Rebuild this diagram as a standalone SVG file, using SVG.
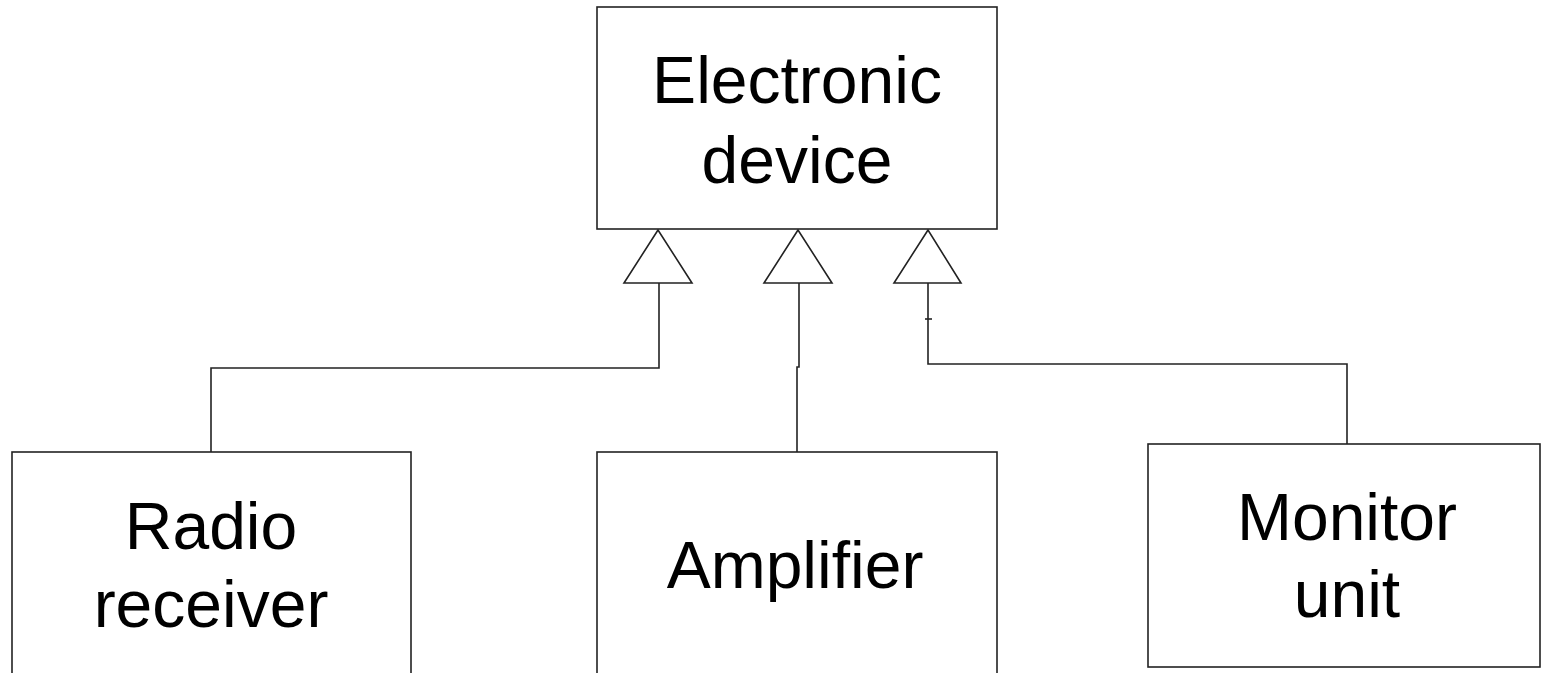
<svg xmlns="http://www.w3.org/2000/svg" width="1541" height="673" viewBox="0 0 1541 673">
<style>
.box{fill:#fff;stroke:#222;stroke-width:1.6}
.lbl{font-family:"Liberation Sans",Arial,sans-serif;font-size:66px;fill:#000;text-anchor:middle}
.conn{fill:none;stroke:#222;stroke-width:1.6}
.tri{fill:#fff;stroke:#222;stroke-width:1.6}
</style>
<rect width="1541" height="673" fill="#fff"/>
<g id="connectors">
<path class="conn" d="M659,283 V368 H211 V452"/>
<path class="conn" d="M799,283 V367 H797 V452"/>
<path class="conn" d="M928,283 V364 H1347 V444"/>
<path class="conn" d="M925,319 H932"/>
<polygon class="tri" points="658,230 624,283 692,283"/>
<polygon class="tri" points="798,230 764,283 832,283"/>
<polygon class="tri" points="928,230 894,283 961,283"/>
</g>
<g id="electronic-device">
<rect class="box" x="597" y="7" width="400" height="222"/>
<text class="lbl" x="797" y="103">Electronic</text>
<text class="lbl" x="797" y="183">device</text>
</g>
<g id="radio-receiver">
<rect class="box" x="12" y="452" width="399" height="240"/>
<text class="lbl" x="211" y="549">Radio</text>
<text class="lbl" x="211" y="627">receiver</text>
</g>
<g id="amplifier">
<rect class="box" x="597" y="452" width="400" height="240"/>
<text class="lbl" x="795" y="588">Amplifier</text>
</g>
<g id="monitor-unit">
<rect class="box" x="1148" y="444" width="392" height="223"/>
<text class="lbl" x="1347" y="540">Monitor</text>
<text class="lbl" x="1347" y="617">unit</text>
</g>
</svg>
